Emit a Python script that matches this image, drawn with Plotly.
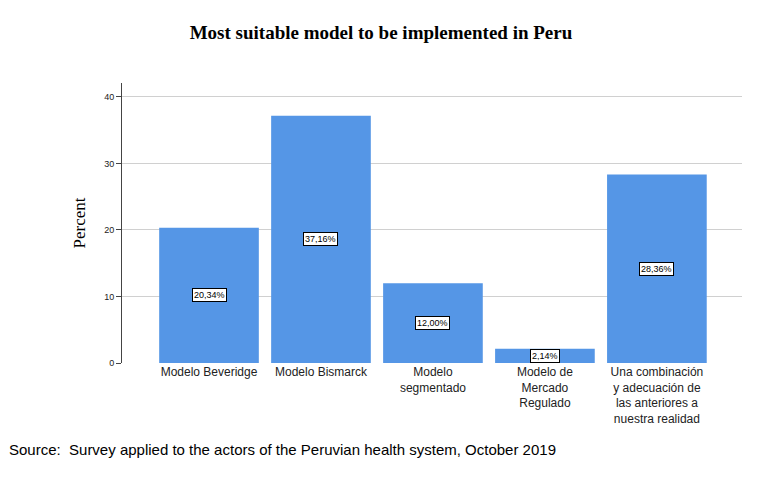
import plotly.graph_objects as go

categories = ["Modelo Beveridge", "Modelo Bismarck", "Modelo<br>segmentado",
              "Modelo de<br>Mercado<br>Regulado",
              "Una combinación<br>y adecuación de<br>las anteriores a<br>nuestra realidad"]
percent = [20.34, 37.16, 12.00, 2.14, 28.36]
labels = ["20,34%", "37,16%", "12,00%", "2,14%", "28,36%"]
y_ticks = [0, 10, 20, 30, 40]

x = list(range(len(categories)))

fig = go.Figure()
fig.add_trace(go.Bar(x=x, y=percent, width=0.89,
                     marker=dict(color="#5596E6", line=dict(width=0))))

# value boxes at mid-height of each bar
for xi, v, lab in zip(x, percent, labels):
    fig.add_annotation(x=xi, y=v / 2, text=lab, showarrow=False,
                       font=dict(family="Arial, Liberation Sans", size=9, color="black"),
                       bgcolor="white", bordercolor="black", borderwidth=1, borderpad=1)

fig.add_annotation(xref="paper", yref="paper", x=-0.185, y=-0.27, xanchor="left", yanchor="top",
                   text="Source:  Survey applied to the actors of the Peruvian health system, October 2019",
                   showarrow=False, font=dict(family="Liberation Sans, Arial", size=15, color="black"))

fig.update_layout(
    width=773, height=480,
    margin=dict(l=114, r=39, t=75, b=125),
    paper_bgcolor="white", plot_bgcolor="white",
    title=dict(text="<b>Most suitable model to be implemented in Peru</b>",
               x=373 / 773, xref="container", xanchor="center", y=0.95, yanchor="middle",
               font=dict(family="Liberation Serif, Times New Roman", size=19, color="black")),
    showlegend=False,
    xaxis=dict(range=[-0.777, 4.76], tickvals=x, ticktext=categories,
               showgrid=False, zeroline=False, showline=False, ticks="",
               tickfont=dict(family="Liberation Sans, Arial", size=12, color="#222")),
    yaxis=dict(range=[0, 42.1], tickvals=y_ticks, showgrid=True, gridcolor="#D0D0D0",
               zeroline=False, showline=True, linecolor="#444", ticks="outside",
               ticklen=5, tickcolor="#444",
               tickfont=dict(family="Liberation Sans, Arial", size=9, color="#222"),
               title=dict(text="Percent", standoff=14,
                          font=dict(family="Liberation Serif, Times New Roman", size=17, color="black"))),
)
fig.write_html("out.html")
